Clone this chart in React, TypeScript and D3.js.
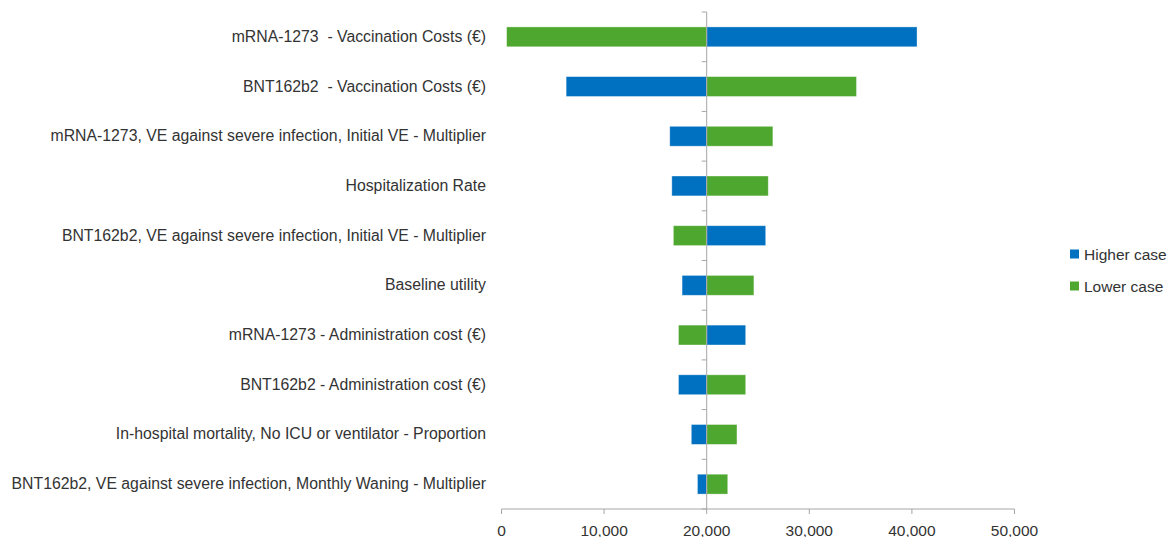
import React from "react";
import * as d3 from "d3";

// parameters, top to bottom
const params = [
  "mRNA-1273  - Vaccination Costs (€)",
  "BNT162b2  - Vaccination Costs (€)",
  "mRNA-1273, VE against severe infection, Initial VE - Multiplier",
  "Hospitalization Rate",
  "BNT162b2, VE against severe infection, Initial VE - Multiplier",
  "Baseline utility",
  "mRNA-1273 - Administration cost (€)",
  "BNT162b2 - Administration cost (€)",
  "In-hospital mortality, No ICU or ventilator - Proportion",
  "BNT162b2, VE against severe infection, Monthly Waning - Multiplier",
];
const higherCase = [40500, 6300, 16400, 16600, 25750, 17600, 23800, 17250, 18500, 19100];
const lowerCase = [500, 34600, 26450, 26000, 16750, 24600, 17250, 23800, 22950, 22050];
const baseValue = 20000;
const xTicks = [0, 10000, 20000, 30000, 40000, 50000];
const seriesNames = ["Higher case", "Lower case"];
const seriesColors = ["#0070C0", "#4EA72E"];

const W = 1172;
const H = 537;
const FONT = "'Liberation Sans', Arial, sans-serif";
const TEXT = "#333333";
const AXIS = "#A6A6A6";

export default function App() {
  const x = d3.scaleLinear().domain([0, 50000]).range([501.5, 1014.5]);
  const y = d3.scaleBand<string>().domain(params).range([12, 509]).paddingInner(0).paddingOuter(0);
  const bw = y.bandwidth();
  const barH = bw * 0.4;
  const fmt = d3.format(",");
  const series = [higherCase, lowerCase];

  return (
    <div style={{ position: "absolute", left: 0, top: 0 }}>
      <svg width={W} height={H} style={{ display: "block", fontFamily: FONT }}>
        <rect width={W} height={H} fill="#fff" />
        {series.map((vals, si) =>
          vals.map((v, i) => {
            const x0 = x(Math.min(v, baseValue));
            const x1 = x(Math.max(v, baseValue));
            const cy = (y(params[i]) as number) + bw / 2;
            return (
              <rect
                key={`${si}-${i}`}
                x={x0}
                y={cy - barH / 2}
                width={x1 - x0}
                height={barH}
                fill={seriesColors[si]}
                stroke="#ffffff"
                strokeOpacity={0.45}
                strokeWidth={0.8}
              />
            );
          })
        )}
        {/* category axis at base value */}
        <line x1={x(baseValue)} x2={x(baseValue)} y1={12} y2={509} stroke={AXIS} strokeWidth={1} />
        {params.map((p, i) => (
          <line key={"t" + i} x1={x(baseValue) - 5} x2={x(baseValue)} y1={y(p) as number} y2={y(p) as number} stroke={AXIS} />
        ))}
        <line x1={x(baseValue) - 5} x2={x(baseValue)} y1={509} y2={509} stroke={AXIS} />
        {params.map((p) => (
          <text
            key={p}
            x={486}
            y={(y(p) as number) + bw / 2 - 0.5}
            textAnchor="end"
            dominantBaseline="central"
            fontSize={15.8}
            fill={TEXT}
            style={{ whiteSpace: "pre" }}
          >
            {p}
          </text>
        ))}
        {/* value axis */}
        <line x1={x(0)} x2={x(50000)} y1={509} y2={509} stroke={AXIS} />
        {xTicks.map((t) => (
          <g key={t}>
            <line x1={x(t)} x2={x(t)} y1={509} y2={514} stroke={AXIS} />
            <text x={x(t)} y={530} textAnchor="middle" dominantBaseline="central" fontSize={15.5} fill={TEXT}>
              {fmt(t)}
            </text>
          </g>
        ))}
        {/* legend */}
        {seriesNames.map((n, i) => (
          <g key={n} transform={`translate(1070,${254 + i * 32})`}>
            <rect x={0} y={-4.5} width={9} height={9} fill={seriesColors[i]} />
            <text x={14} y={0} dominantBaseline="central" fontSize={15.5} fill={TEXT}>
              {n}
            </text>
          </g>
        ))}
      </svg>
    </div>
  );
}
